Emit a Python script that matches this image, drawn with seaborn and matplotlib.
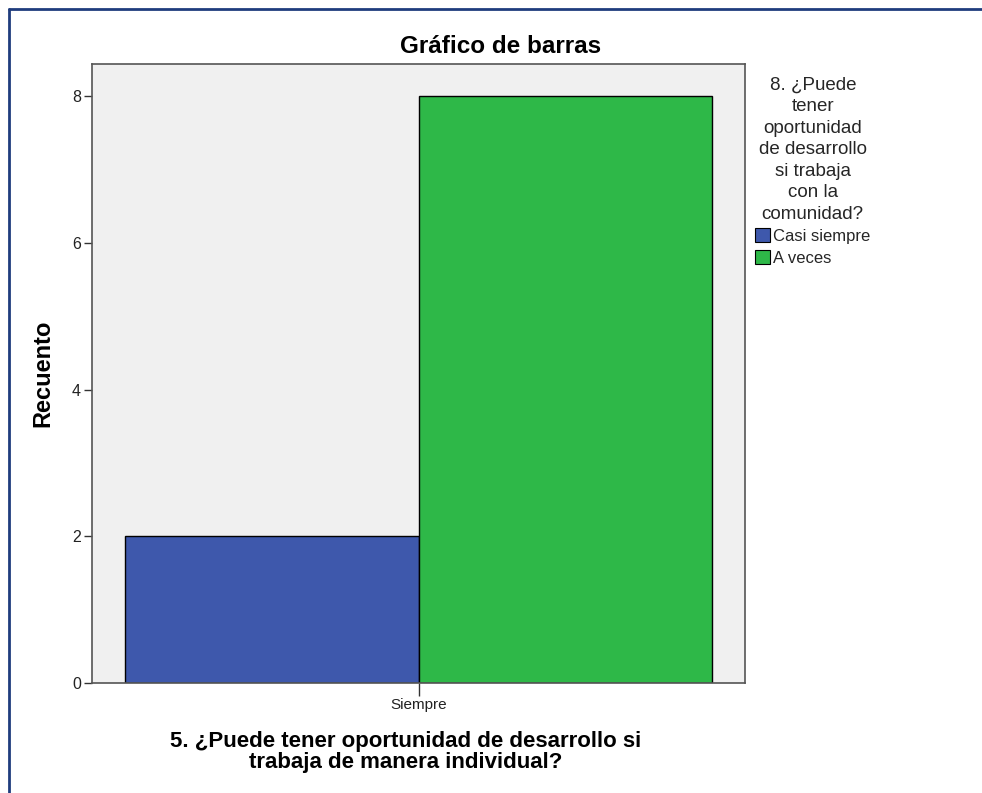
import matplotlib
matplotlib.use("Agg")
import matplotlib.pyplot as plt
from matplotlib.lines import Line2D
from matplotlib.patches import Patch
import pandas as pd
import seaborn as sns

# Data
x_categories = ["Siempre"]
hue_categories = ["Casi siempre", "A veces"]
counts = [2, 8]
bar_colors = ["#3e58ac", "#2eb848"]
y_ticks = [0, 2, 4, 6, 8]

df = pd.DataFrame({
    "q5": x_categories * len(hue_categories),
    "q8": hue_categories,
    "n": counts,
})

sns.set_theme(style="white")
plt.rcParams["font.family"] = ["Liberation Sans", "DejaVu Sans"]

fig = plt.figure(figsize=(9.82, 7.93), dpi=100)
ax = fig.add_axes([92 / 982, 1 - 683 / 793, (745 - 92) / 982, (683 - 64) / 793])
ax.set_facecolor("#f0f0f0")

sns.barplot(data=df, x="q5", y="n", hue="q8", hue_order=hue_categories,
            palette=bar_colors, width=0.9, edgecolor="black", linewidth=1,
            saturation=1, ax=ax, legend=False)

ax.set_xlim(-0.5, 0.5)
ax.set_ylim(0, 8.44)
ax.set_yticks(y_ticks)
ax.set_yticklabels([str(t) for t in y_ticks])

for s in ax.spines.values():
    s.set_color("#555555")
    s.set_linewidth(1.2)

ax.tick_params(axis="y", direction="out", length=6, width=1, color="#333333",
               labelsize=11.5, labelcolor="#222222", left=True, pad=2)
ax.tick_params(axis="x", direction="out", length=9, width=1, color="#333333",
               labelsize=11, labelcolor="#222222", bottom=True, pad=2)

ax.set_ylabel("Recuento", fontsize=17, fontweight="bold", color="black")
ax.yaxis.set_label_coords(-0.057, 0.5)
ax.set_xlabel("5. ¿Puede tener oportunidad de desarrollo si\ntrabaja de manera individual?",
              fontsize=16, fontweight="bold", color="black", linespacing=1.05)
ax.xaxis.set_label_coords(0.48, -0.077)
ax.xaxis.label.set_va("top")

fig.suptitle("Gráfico de barras", x=0.51, y=1 - 35 / 793, va="top",
             fontsize=17.5, fontweight="bold", color="black")

handles = [Patch(facecolor=c, edgecolor="black", linewidth=0.8) for c in bar_colors]
leg = fig.legend(handles, hue_categories,
                 title="8. ¿Puede\ntener\noportunidad\nde desarrollo\nsi trabaja\ncon la\ncomunidad?",
                 loc="upper left", bbox_to_anchor=(755 / 982, 1 - 77 / 793),
                 frameon=False, fontsize=12, title_fontsize=13.5,
                 handlelength=0.9, handleheight=0.9, handletextpad=0.2,
                 labelspacing=0.35, borderaxespad=0, borderpad=0)
leg.get_title().set_linespacing(1.34)
leg.get_title().set_multialignment("center")

# Outer frame lines along left and top edges
fig.add_artist(Line2D([8.5 / 982, 8.5 / 982], [0, 1 - 9 / 793], transform=fig.transFigure,
                      color="#1f3c7d", linewidth=2))
fig.add_artist(Line2D([8.5 / 982, 1], [1 - 9 / 793, 1 - 9 / 793], transform=fig.transFigure,
                      color="#1f3c7d", linewidth=2))

fig.savefig("out.png", dpi=100, facecolor="white")
